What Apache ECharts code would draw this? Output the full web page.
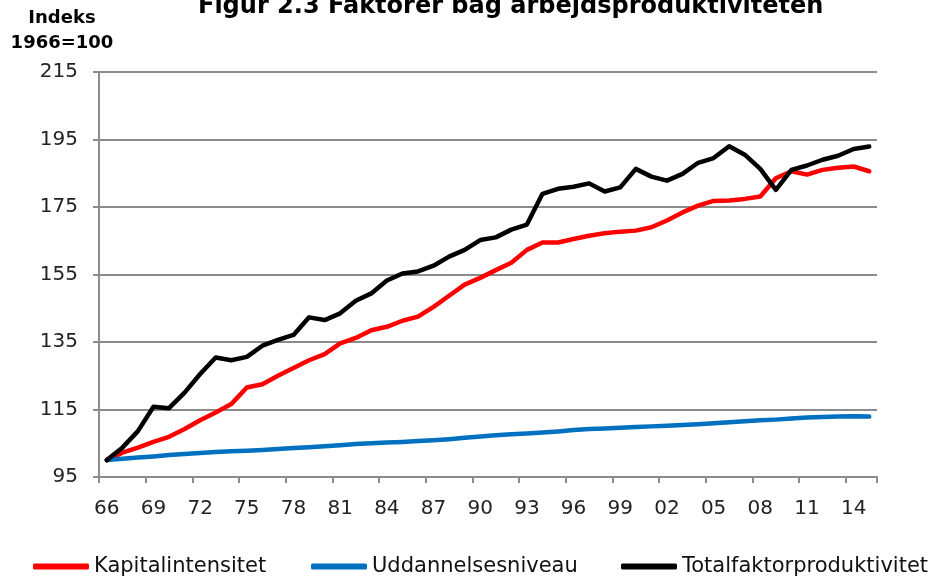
<!DOCTYPE html>
<html>
<head>
<meta charset="utf-8">
<script src="https://cdn.jsdelivr.net/npm/echarts@6/dist/echarts.min.js"></script>
<style>html,body{margin:0;padding:0;background:#fff;}#c{width:939px;height:580px;}</style>
</head>
<body>
<div id="c"></div>
<script>
const years = ["66","67","68","69","70","71","72","73","74","75","76","77","78","79","80","81","82","83","84","85","86","87","88","89","90","91","92","93","94","95","96","97","98","99","00","01","02","03","04","05","06","07","08","09","10","11","12","13","14","15"];
const kapitalintensitet = [100,102.2,103.7,105.4,106.9,109.2,111.8,114.1,116.6,121.5,122.5,125.0,127.3,129.6,131.4,134.6,136.2,138.5,139.5,141.3,142.5,145.4,148.7,152.0,154.0,156.3,158.5,162.3,164.5,164.5,165.5,166.5,167.2,167.7,168.0,169.0,171.0,173.4,175.4,176.8,176.9,177.4,178.1,183.5,185.6,184.6,186.0,186.6,187.0,185.6];
const uddannelsesniveau = [100.0,100.4,100.8,101.1,101.5,101.8,102.1,102.4,102.6,102.8,103.0,103.3,103.6,103.8,104.1,104.4,104.8,105.0,105.2,105.4,105.7,105.9,106.2,106.6,107.0,107.4,107.7,107.9,108.2,108.5,108.9,109.2,109.4,109.6,109.8,110.0,110.2,110.4,110.6,110.9,111.2,111.5,111.8,112.0,112.3,112.6,112.8,112.9,113.0,112.9];
const totalfaktor = [100,103.7,108.6,115.8,115.4,120.0,125.5,130.4,129.6,130.6,133.9,135.6,137.1,142.3,141.5,143.5,147.2,149.4,153.2,155.3,155.9,157.6,160.3,162.3,165.2,166.0,168.3,169.8,178.9,180.4,181.0,182.0,179.6,180.8,186.3,184.0,182.8,184.8,188.1,189.5,193.0,190.5,186.3,180.1,186.0,187.3,189.0,190.2,192.2,192.9];
const seriesNames = ["Kapitalintensitet","Uddannelsesniveau","Totalfaktorproduktivitet"];
const titleText = "Figur 2.3 Faktorer bag arbejdsproduktiviteten";
const yTitleLines = ["Indeks","1966=100"];

const FONT = "DejaVu Sans";
const chart = echarts.init(document.getElementById('c'), null, {renderer:'canvas'});
function mk(name, data, color){
  return {name, type:'line', data, symbol:'none', smooth:false,
    lineStyle:{color, width:4.5, cap:'round', join:'round'}, itemStyle:{color}};
}
const legendLefts = [33, 311, 621];
chart.setOption({
  animation:false,
  backgroundColor:'#fff',
  title:{text:titleText, left:193, top:-10, textStyle:{fontFamily:FONT, fontSize:24, fontWeight:'bold', color:'#000'}},
  graphic:[
    {type:'text', x:62, y:18, style:{text:yTitleLines[0], fontFamily:FONT, fontSize:18, fontWeight:'bold', fill:'#000', align:'center', verticalAlign:'middle'}},
    {type:'text', x:62, y:43, style:{text:yTitleLines[1], fontFamily:FONT, fontSize:18, fontWeight:'bold', fill:'#000', align:'center', verticalAlign:'middle'}}
  ],
  legend:seriesNames.map((n,i)=>({left:legendLefts[i], top:556, itemWidth:56, itemHeight:6, icon:'roundRect', padding:0,
    textStyle:{fontFamily:FONT, fontSize:21, color:'#111'}, data:[n]})),
  grid:{left:99, right:62, top:72, bottom:103, containLabel:false},
  xAxis:{type:'category', data:years, boundaryGap:true,
    axisLine:{lineStyle:{color:'#8c8c8c', width:2}},
    axisTick:{show:true, interval:2, length:6, lineStyle:{color:'#8c8c8c', width:2}},
    axisLabel:{interval:2, margin:22, fontFamily:FONT, fontSize:20, color:'#222'},
    splitLine:{show:false}},
  yAxis:{type:'value', min:95, max:215, interval:20,
    axisLine:{show:true, lineStyle:{color:'#8c8c8c', width:2}},
    axisTick:{show:true, length:6, lineStyle:{color:'#8c8c8c', width:2}},
    axisLabel:{margin:21, fontFamily:FONT, fontSize:20, color:'#222'},
    splitLine:{show:true, lineStyle:{color:'#8c8c8c', width:2}}},
  series:[
    mk(seriesNames[0], kapitalintensitet, '#ff0000'),
    mk(seriesNames[1], uddannelsesniveau, '#0070c0'),
    mk(seriesNames[2], totalfaktor, '#000000')
  ]
});
</script>
</body>
</html>
